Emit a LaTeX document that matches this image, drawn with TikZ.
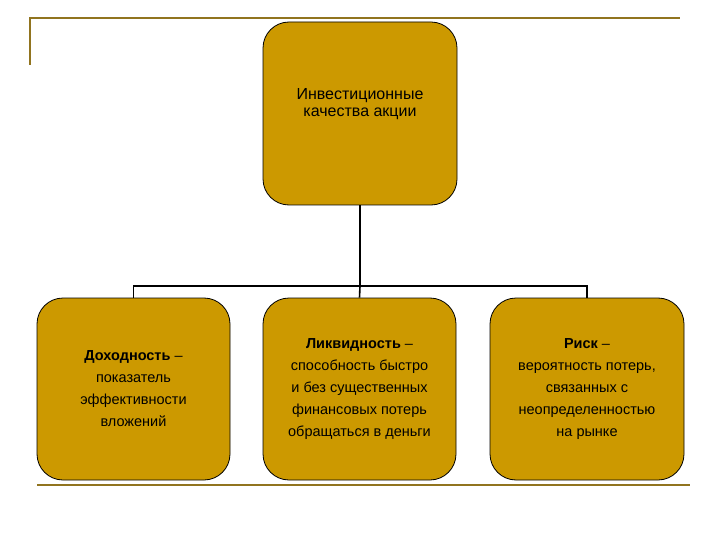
\documentclass[tikz,border=0pt]{standalone}
\usepackage{fontspec}
\setmainfont{Liberation Sans}
\begin{document}
\begin{tikzpicture}[x=1pt,y=-1pt,
  box/.style={draw=black,line width=0.8pt,fill=gold,rounded corners=26pt,align=center,inner sep=0pt},
  deco/.style={draw=olive!80!black,line width=1.5pt},
  conn/.style={draw=black,line width=1.6pt}]
\definecolor{gold}{HTML}{CC9900}
\colorlet{olive}{gold!70!gray}
\useasboundingbox (0,0) rectangle (720,540);
\draw[deco] (30,65) -- (30,18) -- (680,18);
\draw[deco] (37,485) -- (690,485);
\node[box,minimum width=194pt,minimum height=183pt,font=\fontsize{16}{25}\selectfont] (top) at (360,113.5) {\raisebox{22pt}{\shortstack{Инвестиционные\\[2pt]качества акции}}};
\node[box,minimum width=193pt,minimum height=182pt,font=\fontsize{14.5}{22}\selectfont] (l) at (133.5,389) {\textbf{Доходность} –\\показатель\\эффективности\\вложений};
\node[box,minimum width=193pt,minimum height=182pt,font=\fontsize{14.5}{22}\selectfont] (m) at (359.5,389) {\textbf{Ликвидность} –\\способность быстро\\и без существенных\\финансовых потерь\\обращаться в деньги};
\node[box,minimum width=194pt,minimum height=182pt,font=\fontsize{14.5}{22}\selectfont] (r) at (587,389) {\textbf{Риск} –\\вероятность потерь,\\связанных с\\неопределенностью\\на рынке};
\coordinate (bar) at (360,286);
\draw[conn] (top.south) -- (bar);
\draw[conn] (l.north) -- (l.north |- bar) -- (r.north |- bar) -- (r.north);
\draw[conn] (bar) -- (m.north);
\end{tikzpicture}
\end{document}
